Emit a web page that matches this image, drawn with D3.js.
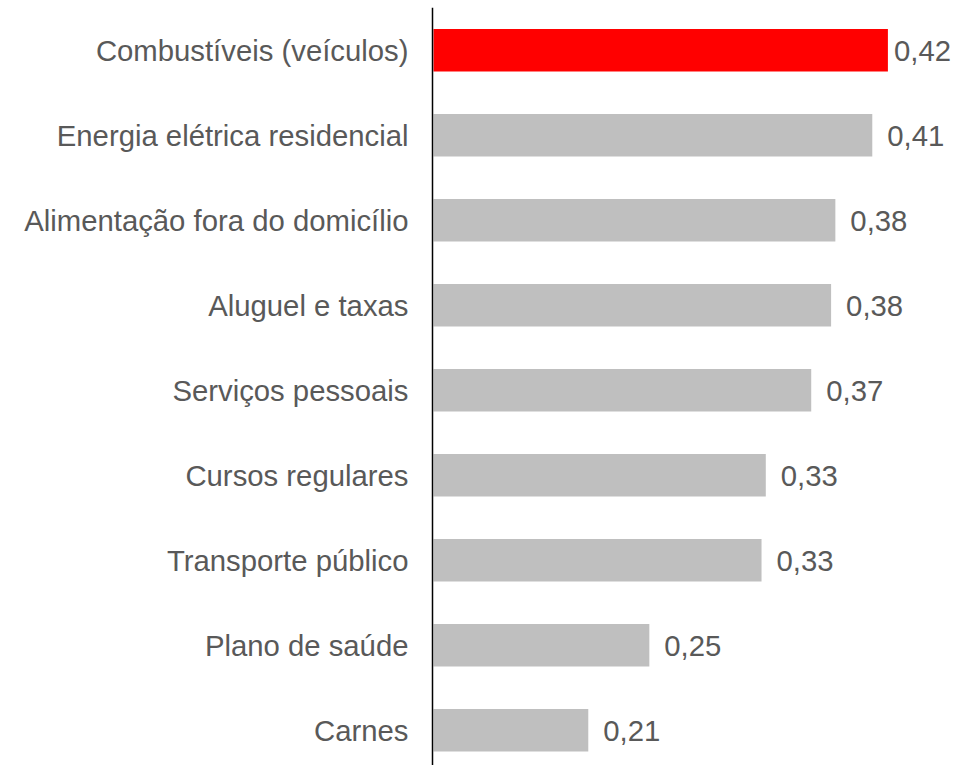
<!DOCTYPE html>
<meta charset="utf-8">
<style>
body { margin: 0; background: #fff; }
.cat, .val { font-family: "Liberation Sans", Arial, sans-serif; font-size: 29.3px; fill: #595959; }
</style>
<body>
<script src="https://d3js.org/d3.v7.min.js"></script>
<script>

// data
var categories = ["Combustíveis (veículos)", "Energia elétrica residencial", "Alimentação fora do domicílio",
                  "Aluguel e taxas", "Serviços pessoais", "Cursos regulares", "Transporte público",
                  "Plano de saúde", "Carnes"];
var values = [0.420, 0.409, 0.383, 0.380, 0.366, 0.334, 0.331, 0.252, 0.209];
var highlight = ["Combustíveis (veículos)"];
var xDomain = [0.1, 0.45];

var data = categories.map(function(c, i) { return {name: c, value: values[i]}; });

// set the dimensions and margins of the graph
var width = 978, height = 765;
var plot = {left: 433.5, right: 930.5, top: 7.75, bottom: 772.75};

var x = d3.scaleLinear()
          .domain(xDomain)
          .range([plot.left, plot.right]);
var y = d3.scaleBand()
          .domain(categories)
          .range([plot.top, plot.bottom])
          .paddingInner(0.5)
          .paddingOuter(0.25);

var fmt = function(v) { return d3.format(".2f")(v).replace(".", ","); };

var svg = d3.select("body").append("svg")
    .attr("width", width)
    .attr("height", height);

// bars
svg.selectAll(".bar")
    .data(data)
  .enter().append("rect")
    .attr("class", "bar")
    .attr("x", x(xDomain[0]))
    .attr("y", function(d) { return y(d.name); })
    .attr("width", function(d) { return x(d.value) - x(xDomain[0]); })
    .attr("height", y.bandwidth())
    .attr("fill", function(d) { return highlight.indexOf(d.name) >= 0 ? "#ff0000" : "#bfbfbf"; });

// value labels, pulled back if they would run past the right edge
var labels = svg.selectAll(".val")
    .data(data)
  .enter().append("text")
    .attr("class", "val")
    .attr("y", function(d) { return y(d.name) + y.bandwidth() / 2; })
    .attr("dy", "0.38em")
    .text(function(d) { return fmt(d.value); });
labels.attr("x", function(d) {
    var w = this.getComputedTextLength();
    return Math.min(x(d.value) + 15, 951 - w);
});

// category axis
var yAxis = svg.append("g")
    .attr("transform", "translate(" + (plot.left - 1) + ",0)")
    .call(d3.axisLeft(y).tickSize(0).tickPadding(24));
yAxis.select(".domain")
    .attr("d", "M0," + plot.top + "V" + plot.bottom)
    .attr("stroke", "#000")
    .attr("stroke-width", 1.5);
yAxis.selectAll("text")
    .attr("class", "cat")
    .attr("font-size", null)
    .attr("font-family", null)
    .attr("fill", null)
    .attr("dy", "0.36em");

</script>
</body>
